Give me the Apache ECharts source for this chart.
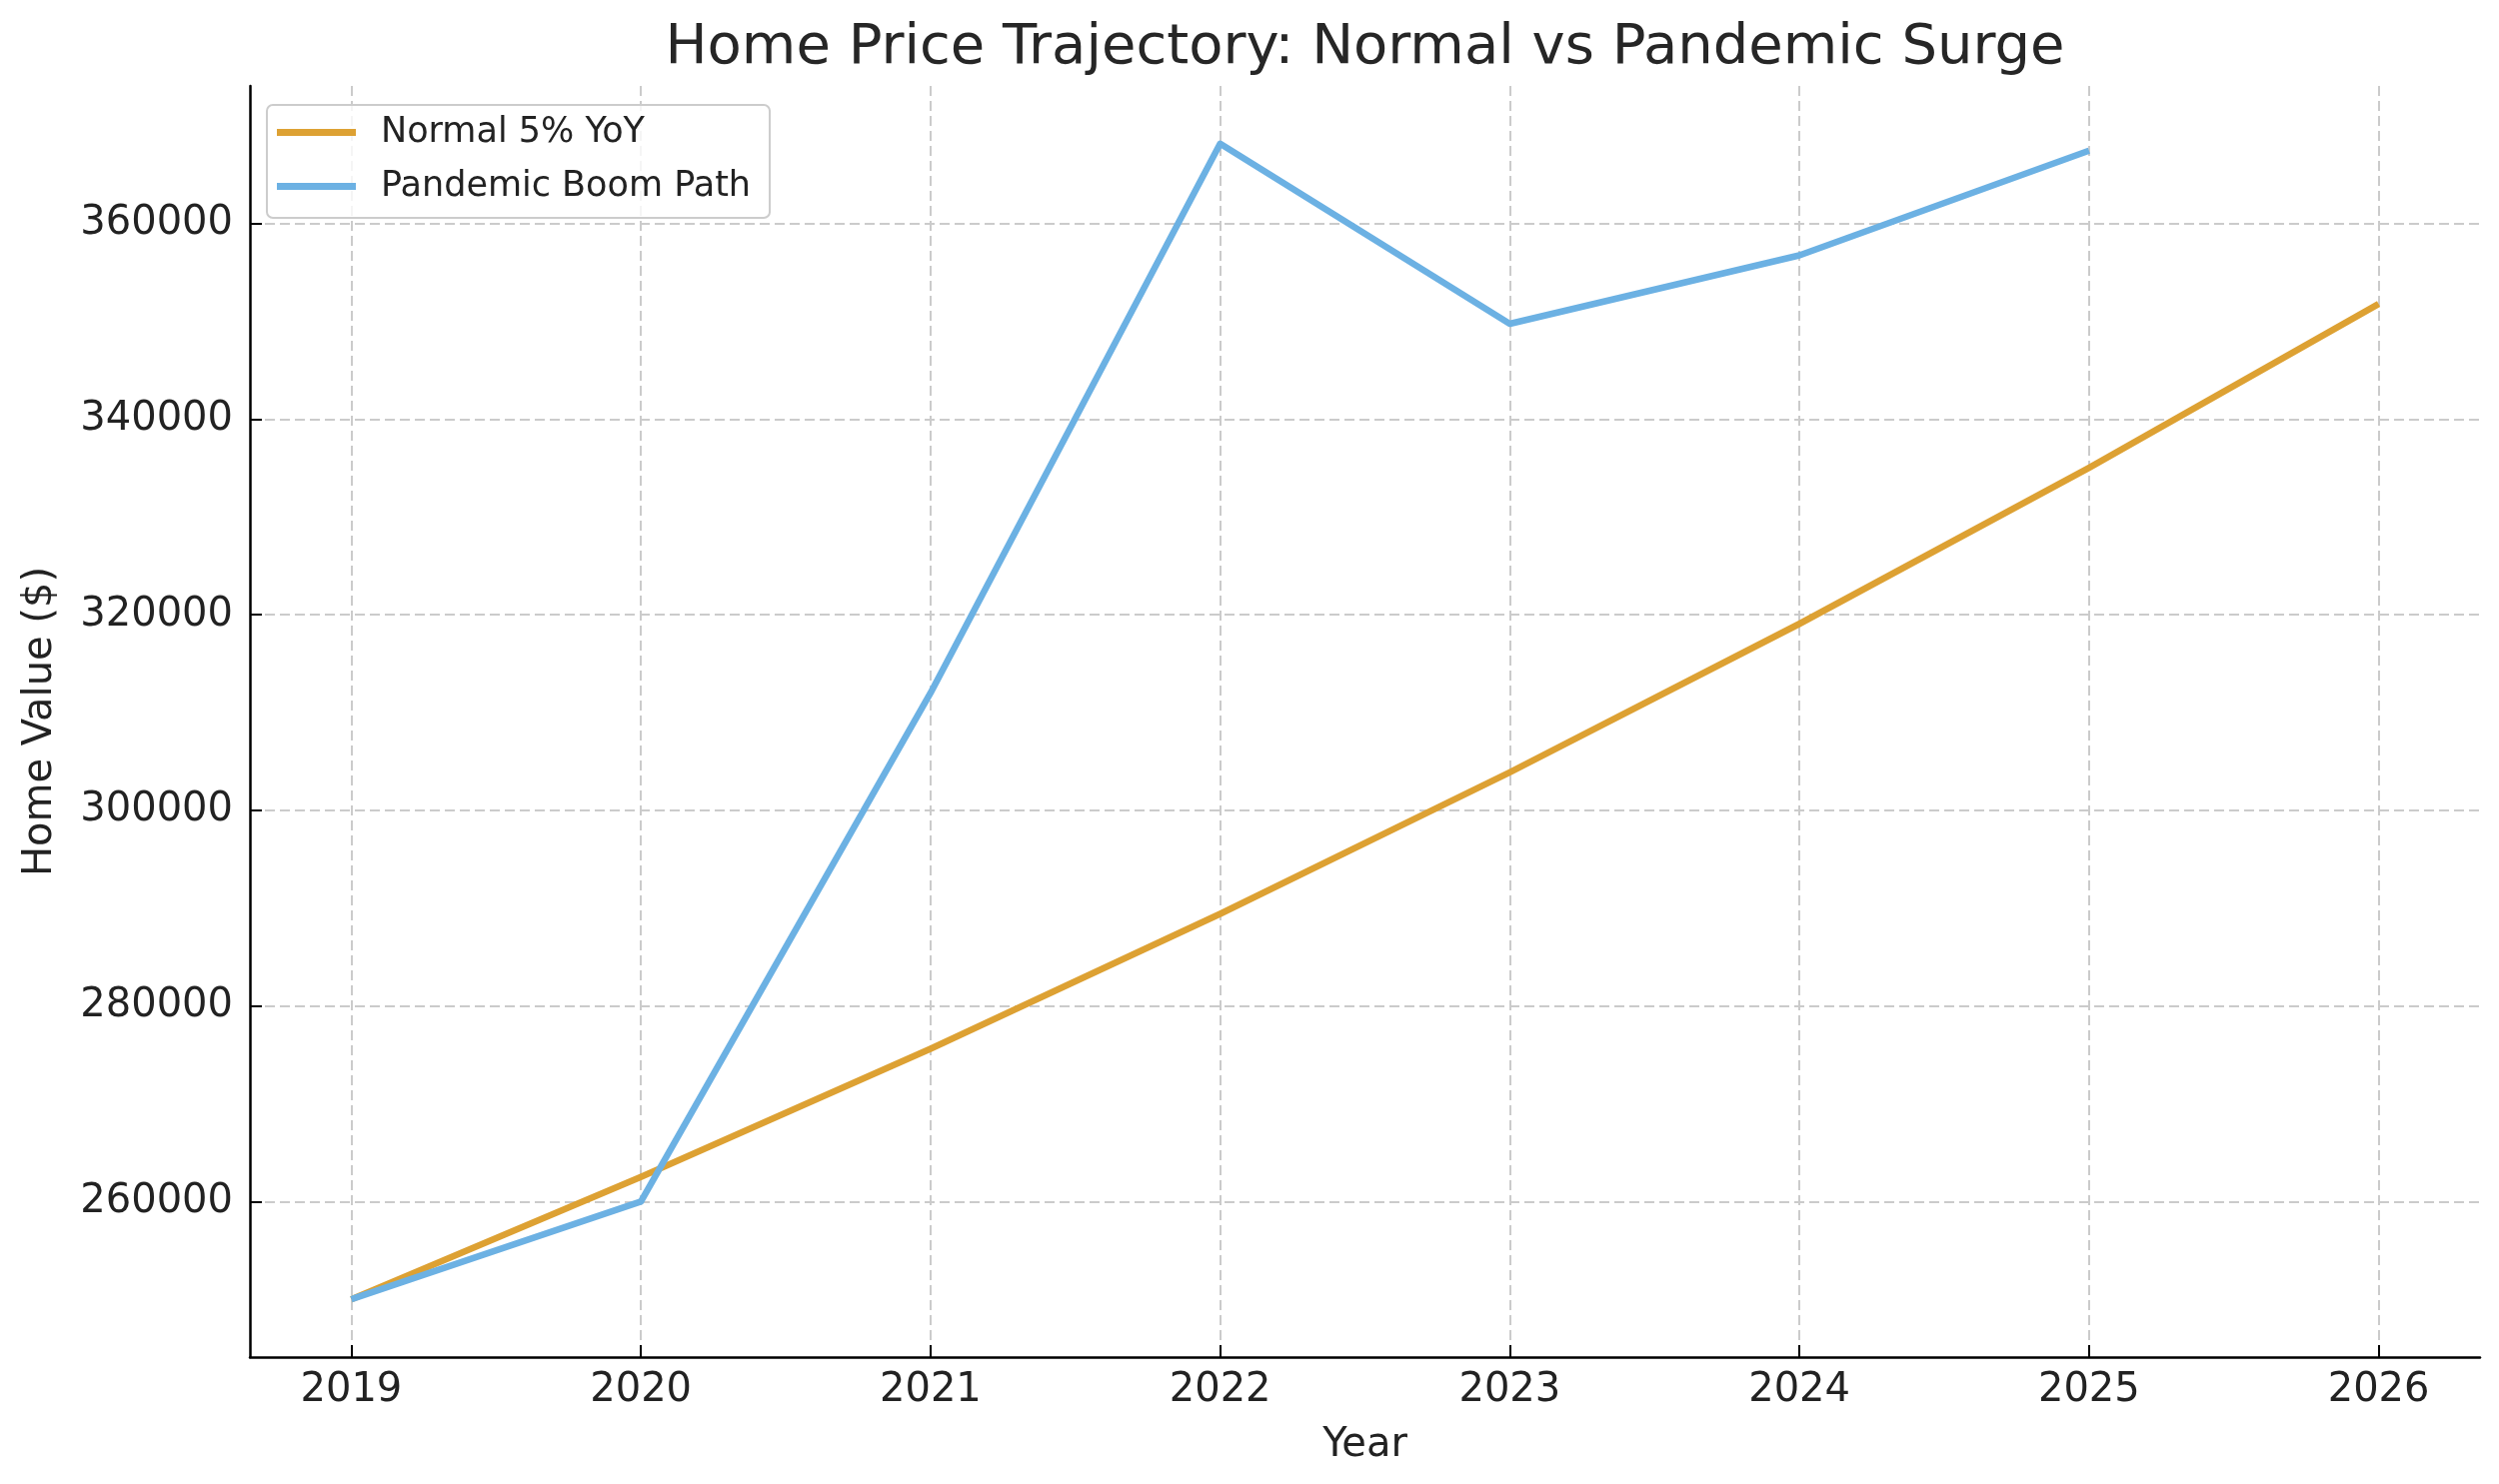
<!DOCTYPE html>
<html>
<head>
<meta charset="utf-8">
<script src="https://cdn.jsdelivr.net/npm/echarts@6/dist/echarts.min.js"></script>
<style>
html,body{margin:0;padding:0;background:#fff;}
#chart{width:2500px;height:1485px;}
</style>
</head>
<body>
<div id="chart"></div>
<script>
// ---- data ----
const years = [2019, 2020, 2021, 2022, 2023, 2024, 2025, 2026];
const normalValues = [250000, 262500, 275625, 289406, 303877, 319070, 335024, 351775];
const pandemicYears = [2019, 2020, 2021, 2022, 2023, 2024, 2025];
const pandemicValues = [250000, 260000, 312000, 368160, 349752, 356747, 367449];
const yTicks = [260000, 280000, 300000, 320000, 340000, 360000];
const seriesNames = ['Normal 5% YoY', 'Pandemic Boom Path'];
const titleText = 'Home Price Trajectory: Normal vs Pandemic Surge';
const xName = 'Year';
const yName = 'Home Value ($)';

// ---- layout (matplotlib-like 5% margins) ----
const FONT = 'DejaVu Sans';
const PL = 250, PR = 2481, PT = 86, PB = 1358;
const PW = PR - PL, PH = PB - PT;
const xMinD = Math.min(...years), xMaxD = Math.max(...years);
const xPad = (xMaxD - xMinD) * 0.05;
const xMin = xMinD - xPad, xMax = xMaxD + xPad;
const allY = normalValues.concat(pandemicValues);
const yMinD = Math.min(...allY), yMaxD = Math.max(...allY);
const yPad = (yMaxD - yMinD) * 0.05;
const yMin = yMinD - yPad, yMax = yMaxD + yPad;
const pxX = v => PL + (v - xMin) / (xMax - xMin) * PW;
const pxY = v => PT + (yMax - v) / (yMax - yMin) * PH;

const gx1L = pxX(xMinD), gx1R = pxX(xMaxD);
const yT0 = yTicks[0], yT1 = yTicks[yTicks.length - 1];
const gy2T = pxY(yT1), gy2B = pxY(yT0);

const gridLine = {show: true, lineStyle: {color: '#cbcbcb', width: 2, type: [10, 5]}};
const tick = {show: true, inside: true, length: 12, lineStyle: {color: '#000', width: 2}};
const hidden = {show: false};

const chart = echarts.init(document.getElementById('chart'), null, {renderer: 'canvas'});
chart.setOption({
  animation: false,
  backgroundColor: '#ffffff',
  textStyle: {fontFamily: FONT},
  title: {
    text: titleText,
    left: (PL + PR) / 2,
    textAlign: 'center',
    top: 20,
    padding: 0,
    textStyle: {fontFamily: FONT, fontSize: 56, fontWeight: 'normal', color: '#262626'}
  },
  legend: {
    orient: 'vertical',
    left: 267, top: 105,
    padding: [10, 19, 14, 10],
    itemGap: 19,
    itemWidth: 79, itemHeight: 7,
    icon: 'rect',
    backgroundColor: 'rgba(255,255,255,0.8)',
    borderColor: '#cccccc', borderWidth: 2, borderRadius: 6,
    textStyle: {fontFamily: FONT, fontSize: 35, color: '#222', padding: [0, 0, 0, 20], lineHeight: 35},
    data: seriesNames
  },
  grid: [
    {left: PL, top: PT, width: PW, height: PH, containLabel: false},
    {left: gx1L, top: PT, width: gx1R - gx1L, height: PH, containLabel: false},
    {left: PL, top: gy2T, width: PW, height: gy2B - gy2T, containLabel: false}
  ],
  xAxis: [
    {gridIndex: 0, type: 'value', min: xMin, max: xMax,
     axisLine: {show: true, lineStyle: {color: '#000', width: 2.5}},
     axisTick: hidden, axisLabel: hidden, splitLine: hidden,
     name: xName, nameLocation: 'middle', nameGap: 69,
     nameTextStyle: {fontFamily: FONT, fontSize: 40, color: '#222'}},
    {gridIndex: 1, type: 'value', min: xMinD, max: xMaxD, interval: 1,
     axisLine: hidden, axisTick: tick, splitLine: gridLine,
     axisLabel: {show: true, margin: 14, fontFamily: FONT, fontSize: 40, color: '#222',
       formatter: v => String(v)}},
    {gridIndex: 2, type: 'value', min: 0, max: 1, show: false}
  ],
  yAxis: [
    {gridIndex: 0, type: 'value', min: yMin, max: yMax,
     axisLine: {show: true, lineStyle: {color: '#000', width: 2.5}},
     axisTick: hidden, axisLabel: hidden, splitLine: hidden,
     name: yName, nameLocation: 'middle', nameGap: 189,
     nameTextStyle: {fontFamily: FONT, fontSize: 40, color: '#222'}},
    {gridIndex: 1, type: 'value', min: 0, max: 1, show: false},
    {gridIndex: 2, type: 'value', min: yT0, max: yT1, interval: yTicks[1] - yTicks[0],
     axisLine: hidden, axisTick: tick, splitLine: gridLine,
     axisLabel: {show: true, margin: 17, fontFamily: FONT, fontSize: 40, color: '#222',
       formatter: v => String(v)}}
  ],
  series: [
    {name: seriesNames[0], type: 'line', xAxisIndex: 0, yAxisIndex: 0,
     data: years.map((y, i) => [y, normalValues[i]]),
     showSymbol: false, symbol: 'none', color: '#DDA133',
     lineStyle: {width: 6.5, color: '#DDA133', join: 'round'}, z: 3},
    {name: seriesNames[1], type: 'line', xAxisIndex: 0, yAxisIndex: 0,
     data: pandemicYears.map((y, i) => [y, pandemicValues[i]]),
     showSymbol: false, symbol: 'none', color: '#6CB1E3',
     lineStyle: {width: 6.5, color: '#6CB1E3', join: 'round'}, z: 4}
  ]
});
</script>
</body>
</html>
